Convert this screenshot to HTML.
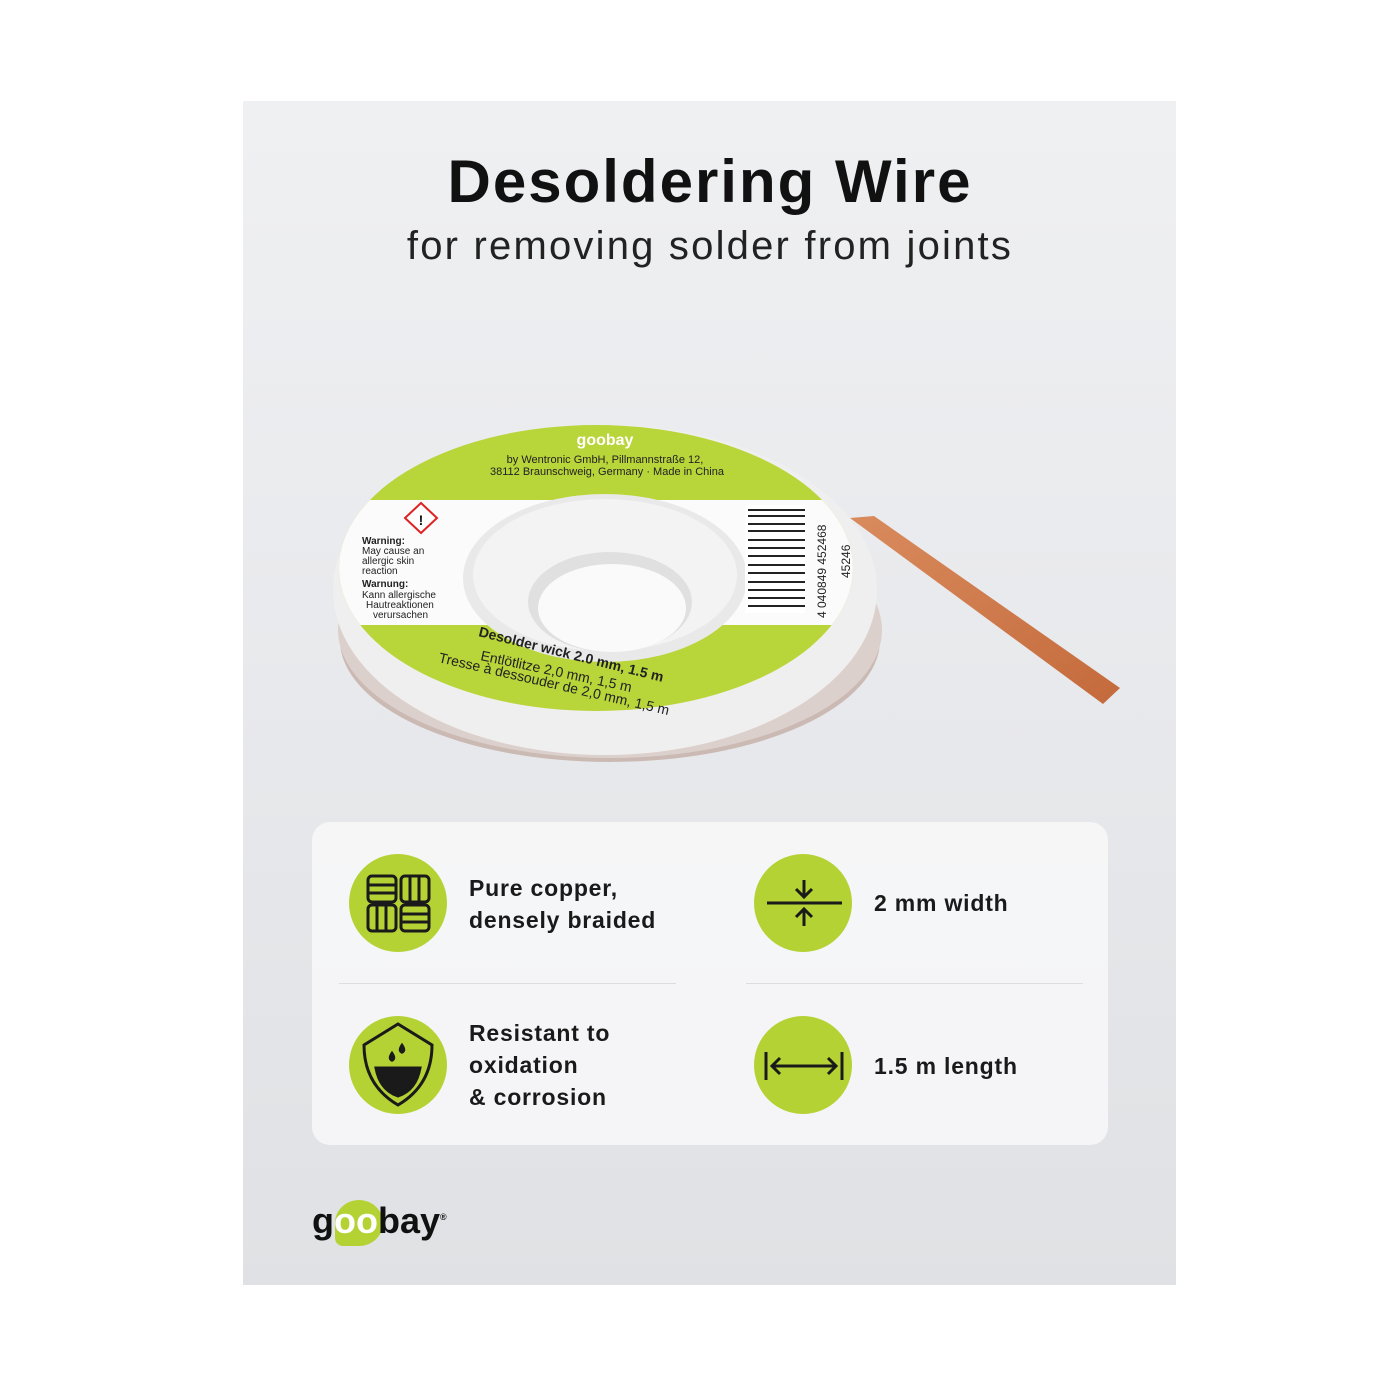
<!DOCTYPE html>
<html><head><meta charset="utf-8"><style>
body{margin:0;width:1400px;height:1400px;background:#fff;position:relative;font-family:"Liberation Sans","DejaVu Sans",sans-serif;overflow:hidden}
.panel{position:absolute;left:243px;top:101px;width:933px;height:1184px;background:linear-gradient(180deg,#eff0f2 0%,#e8e9ec 50%,#dfe1e4 100%)}
.t1{position:absolute;left:0;width:1420px;top:147px;text-align:center;font-size:60px;font-weight:bold;color:#111;letter-spacing:2px}
.t2{position:absolute;left:0;width:1420px;top:224px;text-align:center;font-size:40px;color:#222;letter-spacing:2.2px}
.card{position:absolute;left:312px;top:822px;width:796px;height:323px;background:rgba(248,248,249,0.85);border-radius:18px}
.ic{position:absolute;width:98px;height:98px;border-radius:50%;background:#b4d234}
.ft{position:absolute;font-size:23px;font-weight:bold;color:#1a1a1a;line-height:32px;letter-spacing:0.8px}
.hr{position:absolute;height:1px;background:#dcdde0}
</style></head><body>
<div class="panel"></div>
<div class="t1">Desoldering Wire</div>
<div class="t2">for removing solder from joints</div>

<svg style="position:absolute;left:0;top:0" width="1400" height="1400">
<defs><linearGradient id="cu" x1="0" y1="0" x2="1" y2="1"><stop offset="0" stop-color="#d98b5d"/><stop offset="1" stop-color="#c46a3c"/></linearGradient></defs>
<ellipse cx="610" cy="640" rx="270" ry="122" fill="#cbbab4"/>
<ellipse cx="610" cy="630" rx="272" ry="128" fill="#dcd0cc"/>
<ellipse cx="605" cy="590" rx="272" ry="165" fill="#f0efef"/>
<ellipse cx="596" cy="568" rx="257" ry="143" fill="#b8d53a"/>
<clipPath id="lb"><ellipse cx="596" cy="568" rx="257" ry="143"/></clipPath>
<rect x="330" y="500" width="530" height="125" fill="#fbfbfb" clip-path="url(#lb)"/>
<ellipse cx="605" cy="578" rx="142" ry="84" fill="#e9e9e9"/>
<ellipse cx="605" cy="575" rx="132" ry="76" fill="#f3f3f3"/>
<ellipse cx="610" cy="602" rx="82" ry="50" fill="#e0e0e0"/>
<ellipse cx="612" cy="608" rx="74" ry="44" fill="#fafafa"/>
<polygon points="850,518 874,516 1120,688 1103,704" fill="url(#cu)"/>
<g fill="#222"><rect x="745" y="505" width="60" height="108" fill="#fff"/>
<g stroke="#222" stroke-width="2"><line x1="748" y1="510" x2="805" y2="510"/><line x1="748" y1="516" x2="805" y2="516"/><line x1="748" y1="524" x2="805" y2="524"/><line x1="748" y1="531" x2="805" y2="531"/><line x1="748" y1="540" x2="805" y2="540"/><line x1="748" y1="548" x2="805" y2="548"/><line x1="748" y1="556" x2="805" y2="556"/><line x1="748" y1="565" x2="805" y2="565"/><line x1="748" y1="573" x2="805" y2="573"/><line x1="748" y1="582" x2="805" y2="582"/><line x1="748" y1="590" x2="805" y2="590"/><line x1="748" y1="598" x2="805" y2="598"/><line x1="748" y1="606" x2="805" y2="606"/></g></g>
<text x="0" y="0" transform="translate(826,618) rotate(-90)" font-size="12" fill="#222" font-family="Liberation Sans">4 040849 452468</text>
<text x="0" y="0" transform="translate(850,578) rotate(-90)" font-size="12" fill="#222" font-family="Liberation Sans">45246</text>
<polygon points="421,503 437,518 421,533 405,518" fill="#fff" stroke="#d22" stroke-width="2"/>
<text x="421" y="525" font-size="14" text-anchor="middle" font-weight="bold" fill="#111">!</text>
<g font-size="10" fill="#222" font-family="Liberation Sans"><text x="362" y="544" font-weight="bold">Warning:</text><text x="362" y="554">May cause an</text><text x="362" y="564">allergic skin</text><text x="362" y="574">reaction</text><text x="362" y="587" font-weight="bold">Warnung:</text><text x="362" y="598">Kann allergische</text><text x="366" y="608">Hautreaktionen</text><text x="373" y="618">verursachen</text></g>
<text x="605" y="445" font-size="16" text-anchor="middle" fill="#fff" font-weight="bold">goobay</text>
<g font-size="11" fill="#222" text-anchor="middle"><text x="605" y="463">by Wentronic GmbH, Pillmannstraße 12,</text><text x="607" y="475">38112 Braunschweig, Germany · Made in China</text></g>
<g font-size="14" fill="#222" font-weight="bold"><text x="0" y="0" transform="translate(478,636) rotate(14)">Desolder wick 2.0 mm, 1.5 m</text></g>
<g font-size="14" fill="#222"><text x="0" y="0" transform="translate(480,660) rotate(12)">Entlötlitze 2,0 mm, 1,5 m</text><text x="0" y="0" transform="translate(438,662) rotate(13)">Tresse à dessouder de 2,0 mm, 1,5 m</text></g>
</svg>

<div class="card"></div>
<div class="ic" style="left:349px;top:854px"></div>
<div class="ic" style="left:349px;top:1016px"></div>
<div class="ic" style="left:754px;top:854px"></div>
<div class="ic" style="left:754px;top:1016px"></div>
<svg style="position:absolute;left:0;top:0" width="1400" height="1400" fill="none" stroke="#1a1a1a" stroke-width="3">
<rect x="368" y="876" width="28" height="26" rx="4"/><line x1="368" y1="885" x2="396" y2="885"/><line x1="368" y1="893" x2="396" y2="893"/>
<rect x="401" y="876" width="28" height="26" rx="4"/><line x1="410" y1="876" x2="410" y2="902"/><line x1="419" y1="876" x2="419" y2="902"/>
<rect x="368" y="905" width="28" height="26" rx="4"/><line x1="377" y1="905" x2="377" y2="931"/><line x1="386" y1="905" x2="386" y2="931"/>
<rect x="401" y="905" width="28" height="26" rx="4"/><line x1="401" y1="914" x2="429" y2="914"/><line x1="401" y1="922" x2="429" y2="922"/>
<path d="M398 1024 L432 1045 Q432 1085 398 1105 Q364 1085 364 1045 Z"/>
<path d="M376 1068 L420 1068 Q416 1090 398 1096 Q380 1090 376 1068Z" fill="#1a1a1a"/>
<path d="M392 1052 q-5 7 0 9 q5-2 0-9z M402 1044 q-5 7 0 9 q5-2 0-9z" fill="#1a1a1a" stroke-width="1.5"/>
<line x1="767" y1="903" x2="842" y2="903"/>
<path d="M804 880 L804 897 M796 889 L804 897 L812 889 M804 926 L804 909 M796 917 L804 909 L812 917"/>
<path d="M766 1052 L766 1080 M842 1052 L842 1080 M772 1066 L836 1066 M780 1058 L772 1066 L780 1074 M828 1058 L836 1066 L828 1074"/>
</svg>
<div class="ft" style="left:469px;top:872px">Pure copper,<br>densely braided</div>
<div class="ft" style="left:469px;top:1017px">Resistant to<br>oxidation<br>&amp; corrosion</div>
<div class="ft" style="left:874px;top:887px">2 mm width</div>
<div class="ft" style="left:874px;top:1050px">1.5 m length</div>
<div class="hr" style="left:339px;top:983px;width:337px"></div>
<div class="hr" style="left:746px;top:983px;width:337px"></div>

<div style="position:absolute;left:335px;top:1200px;width:48px;height:46px;border-radius:50% 50% 50% 8px;background:#b4d234"></div>
<div style="position:absolute;left:312px;top:1200px;font-size:36px;font-weight:bold;color:#111;letter-spacing:0px">g<span style="color:#fff">oo</span>bay<sup style="font-size:9px">®</sup></div>
</body></html>
